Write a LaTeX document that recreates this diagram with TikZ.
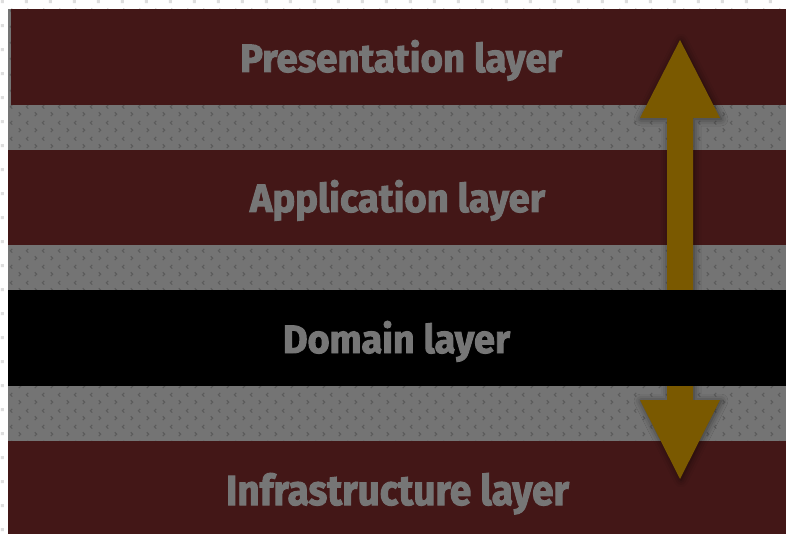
\documentclass[tikz,border=0pt]{standalone}
\usepackage{fontspec}
\setmainfont{Fira Sans}[BoldFeatures={FakeBold=2.5}]
\usepackage{graphicx}
\usetikzlibrary{patterns,shadows.blur}

\definecolor{layerred}{RGB}{67,23,23}
\definecolor{gapgrey}{RGB}{116,116,116}
\definecolor{gapdot}{RGB}{92,92,92}
\definecolor{labelgrey}{RGB}{118,118,118}
\definecolor{arrowgold}{RGB}{122,89,0}
\definecolor{margindot}{RGB}{222,222,222}

% small chevrons tiled over the gaps between layers
\pgfdeclarepatternformonly{chevrons}{\pgfpoint{0pt}{0pt}}{\pgfpoint{16pt}{16pt}}{\pgfpoint{16pt}{16pt}}{
  \pgfsetlinewidth{1.2pt}
  \pgfpathmoveto{\pgfpoint{3pt}{2pt}}\pgfpathlineto{\pgfpoint{5pt}{4pt}}\pgfpathlineto{\pgfpoint{3pt}{6pt}}
  \pgfusepath{stroke}
  \pgfpathmoveto{\pgfpoint{13pt}{10pt}}\pgfpathlineto{\pgfpoint{11pt}{12pt}}\pgfpathlineto{\pgfpoint{13pt}{14pt}}
  \pgfusepath{stroke}
}
% faint dots on the outer margin
\pgfdeclarepatternformonly{margindots}{\pgfpoint{0pt}{0pt}}{\pgfpoint{24pt}{24pt}}{\pgfpoint{24pt}{24pt}}{
  \pgfpathrectangle{\pgfpoint{2pt}{3pt}}{\pgfpoint{3pt}{3pt}}
  \pgfpathrectangle{\pgfpoint{14pt}{15pt}}{\pgfpoint{3pt}{3pt}}
  \pgfusepath{fill}
}

\tikzset{
  band/.style={fill=layerred, draw=none},
  domainband/.style={fill=black, draw=none},
  layerlabel/.style={anchor=base, inner sep=0pt, text=labelgrey, font=\bfseries},
  flowarrow/.style={fill=arrowgold, draw=none,
    blur shadow={shadow xshift=1pt, shadow yshift=-1pt, shadow blur radius=7pt, shadow opacity=55}}
}

\newcommand{\layertext}[2]{\resizebox{#1pt}{32pt}{#2}}

\begin{document}
\begin{tikzpicture}[x=1pt,y=-1pt]
  \useasboundingbox (0,0) rectangle (786,534);
  % page margin
  \fill[white] (0,0) rectangle (786,534);
  \fill[pattern=margindots, pattern color=margindot] (0,0) rectangle (786,534);
  % patterned ground showing between the layers
  \fill[gapgrey] (8,9) rectangle (786,534);
  \fill[pattern=chevrons, pattern color=gapdot] (8,9) rectangle (786,534);

  % layer bands
  \path[band] (11,9) rectangle (786,105);
  \coordinate (pres) at (398,57);
  \path[band] (8,150) rectangle (786,245);
  \coordinate (app) at (398,197);
  \path[band] (8,441) rectangle (786,534);
  \coordinate (infra) at (398,488);

  % two-way arrow from presentation down to infrastructure
  \coordinate (arrTop) at (680,40);
  \coordinate (arrBot) at (680,479);
  \path[flowarrow] (arrTop) -- (720,118) -- (693,118) -- (693,400) -- (720,400)
    -- (arrBot) -- (640,400) -- (667,400) -- (667,118) -- (640,118) -- cycle;

  % domain layer sits above the arrow
  \path[domainband] (8,290) rectangle (786,386);
  \coordinate (dom) at (398,338);

  % labels
  \node[layerlabel] (presLabel)  at (401,72)    {\layertext{322}{Presentation layer}};
  \node[layerlabel] (appLabel)   at (397.5,212) {\layertext{295}{Application layer}};
  \node[layerlabel] (domLabel)   at (396.5,353) {\layertext{227}{Domain layer}};
  \node[layerlabel] (infraLabel) at (397.5,505) {\layertext{343}{Infrastructure layer}};
\end{tikzpicture}
\end{document}
